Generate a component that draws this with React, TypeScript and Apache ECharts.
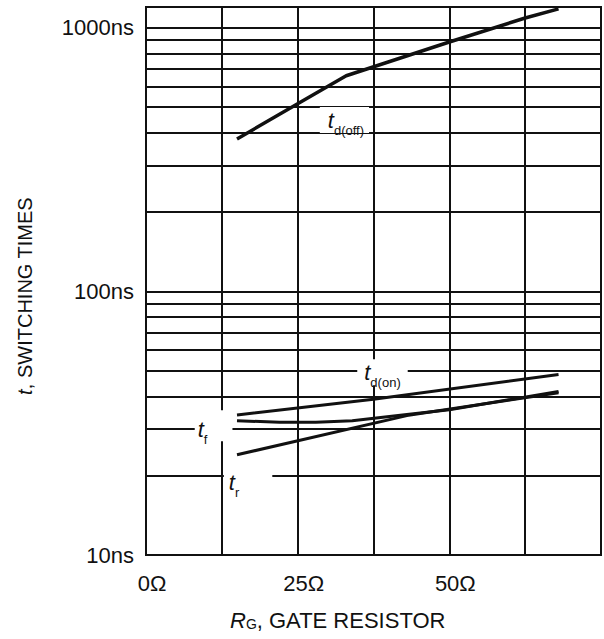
import React, { useEffect, useRef } from 'react';
import * as echarts from 'echarts';

const FONT = '"Liberation Sans", Arial, Helvetica, sans-serif';
const INK = '#111';

// Axis ticks
const yTickValues = [10, 100, 1000];
const yMinorLines = [20, 30, 40, 50, 60, 70, 80, 90, 200, 300, 400, 500, 600, 700, 800, 900];
const xLabelledTicks = [0, 25, 50];

// Switching times (ns) versus gate resistance (Ω)
const tdOffR = [15, 25, 33, 50, 62.5, 68];
const tdOffT = [379, 515, 658, 884, 1090, 1180];
const tdOnR = [15, 37.5, 68];
const tdOnT = [34.0, 39.0, 48.4];
const tfR = [15, 22, 28, 34, 43, 50, 68];
const tfT = [32.3, 31.9, 31.9, 32.3, 34.1, 35.6, 41.7];
const trR = [15, 43, 68];
const trT = [24.0, 33.8, 41.3];

// Curve name tags: subscript text and anchor in data units (Ω, ns)
const tagSubs = ['d(off)', 'd(on)', 'f', 'r'];
const tagAnchors = [
  [28.57, 447],
  [34.74, 49.4],
  [7.95, 30.9],
  [12.75, 18.9],
];
const tagPadding = [
  [2, 5, 2, 8],
  [2, 7, 2, 7],
  [8, 25, 1, 3],
  [2, 33, 2, 5],
];

const tagRich = {
  t: { fontFamily: FONT, fontStyle: 'italic', fontSize: 22, lineHeight: 22, color: INK },
  s: { fontFamily: FONT, fontSize: 13, lineHeight: 13, padding: [20, 0, 0, 0], color: INK },
};

function curve(r: number[], t: number[], width: number, idx: number, extra: any = {}) {
  return {
    type: 'line',
    data: r.map((x, i) => [x, t[i]]),
    symbol: 'none',
    showSymbol: false,
    smooth: false,
    z: 3,
    silent: true,
    lineStyle: { color: INK, width, cap: 'butt', join: 'round' },
    markPoint: {
      z: 10,
      silent: true,
      symbol: 'rect',
      symbolSize: 1,
      itemStyle: { color: 'rgba(0,0,0,0)' },
      label: {
        show: true,
        position: 'right',
        distance: 0,
        formatter: `{t|t}{s|${tagSubs[idx]}}`,
        backgroundColor: '#fff',
        padding: tagPadding[idx],
        rich: tagRich,
      },
      data: [{ coord: tagAnchors[idx] }],
    },
    ...extra,
  };
}

export default function App() {
  const ref = useRef<HTMLDivElement>(null);

  useEffect(() => {
    if (!ref.current) return;
    const chart = echarts.init(ref.current, undefined, { renderer: 'svg' });

    const option: any = {
      animation: false,
      backgroundColor: '#fff',
      grid: {
        left: 146,
        top: 7,
        width: 462,
        height: 548,
        show: true,
        borderColor: INK,
        borderWidth: 2,
        backgroundColor: 'transparent',
      },
      xAxis: {
        type: 'value',
        min: 0,
        max: 75,
        interval: 12.5,
        axisLine: { show: true, lineStyle: { color: INK, width: 2 } },
        axisTick: { show: false },
        splitLine: { show: true, lineStyle: { color: INK, width: 2 } },
        axisLabel: {
          margin: 17,
          fontFamily: FONT,
          fontSize: 22,
          color: INK,
          padding: [0, 0, 0, 12],
          formatter: (v: number) => (xLabelledTicks.includes(v) ? `${v}Ω` : ''),
        },
      },
      yAxis: {
        type: 'log',
        logBase: 10,
        min: 10,
        max: 1200,
        axisLine: { show: true, lineStyle: { color: INK, width: 2 } },
        axisTick: { show: false },
        splitLine: { show: true, lineStyle: { color: INK, width: 2 } },
        axisLabel: {
          margin: 12,
          fontFamily: FONT,
          fontSize: 22,
          color: INK,
          formatter: (v: number) => (yTickValues.includes(Math.round(v)) ? `${Math.round(v)}ns` : ''),
        },
      },
      series: [
        curve(tdOffR, tdOffT, 3.5, 0, {
          markLine: {
            z: 1,
            silent: true,
            symbol: ['none', 'none'],
            label: { show: false },
            lineStyle: { color: INK, width: 2, type: 'solid' },
            emphasis: { disabled: true },
            data: yMinorLines.map((v) => ({ yAxis: v })),
          },
        }),
        curve(tdOnR, tdOnT, 3, 1),
        curve(tfR, tfT, 3, 2),
        curve(trR, trT, 3, 3),
      ],
      graphic: [
        {
          type: 'text',
          x: 25,
          y: 296,
          rotation: Math.PI / 2,
          style: {
            text: '{i|t}{n|, SWITCHING TIMES}',
            align: 'center',
            verticalAlign: 'middle',
            rich: {
              i: { fontFamily: FONT, fontStyle: 'italic', fontSize: 20, fill: INK, color: INK },
              n: { fontFamily: FONT, fontSize: 20, fill: INK, color: INK },
            },
          },
        },
        {
          type: 'text',
          x: 230,
          y: 620,
          style: {
            text: '{i|R}{s|G}{n|, GATE RESISTOR}',
            align: 'left',
            verticalAlign: 'middle',
            rich: {
              i: { fontFamily: FONT, fontStyle: 'italic', fontSize: 22, lineHeight: 22, fill: INK, color: INK },
              s: { fontFamily: FONT, fontSize: 14, lineHeight: 14, padding: [8, 0, 0, 0], fill: INK, color: INK },
              n: { fontFamily: FONT, fontSize: 22, lineHeight: 22, fill: INK, color: INK },
            },
          },
        },
      ],
    };

    chart.setOption(option);
    return () => chart.dispose();
  }, []);

  return (
    <div
      ref={ref}
      style={{ position: 'fixed', left: 0, top: 0, width: 604, height: 639, background: '#fff' }}
    />
  );
}
